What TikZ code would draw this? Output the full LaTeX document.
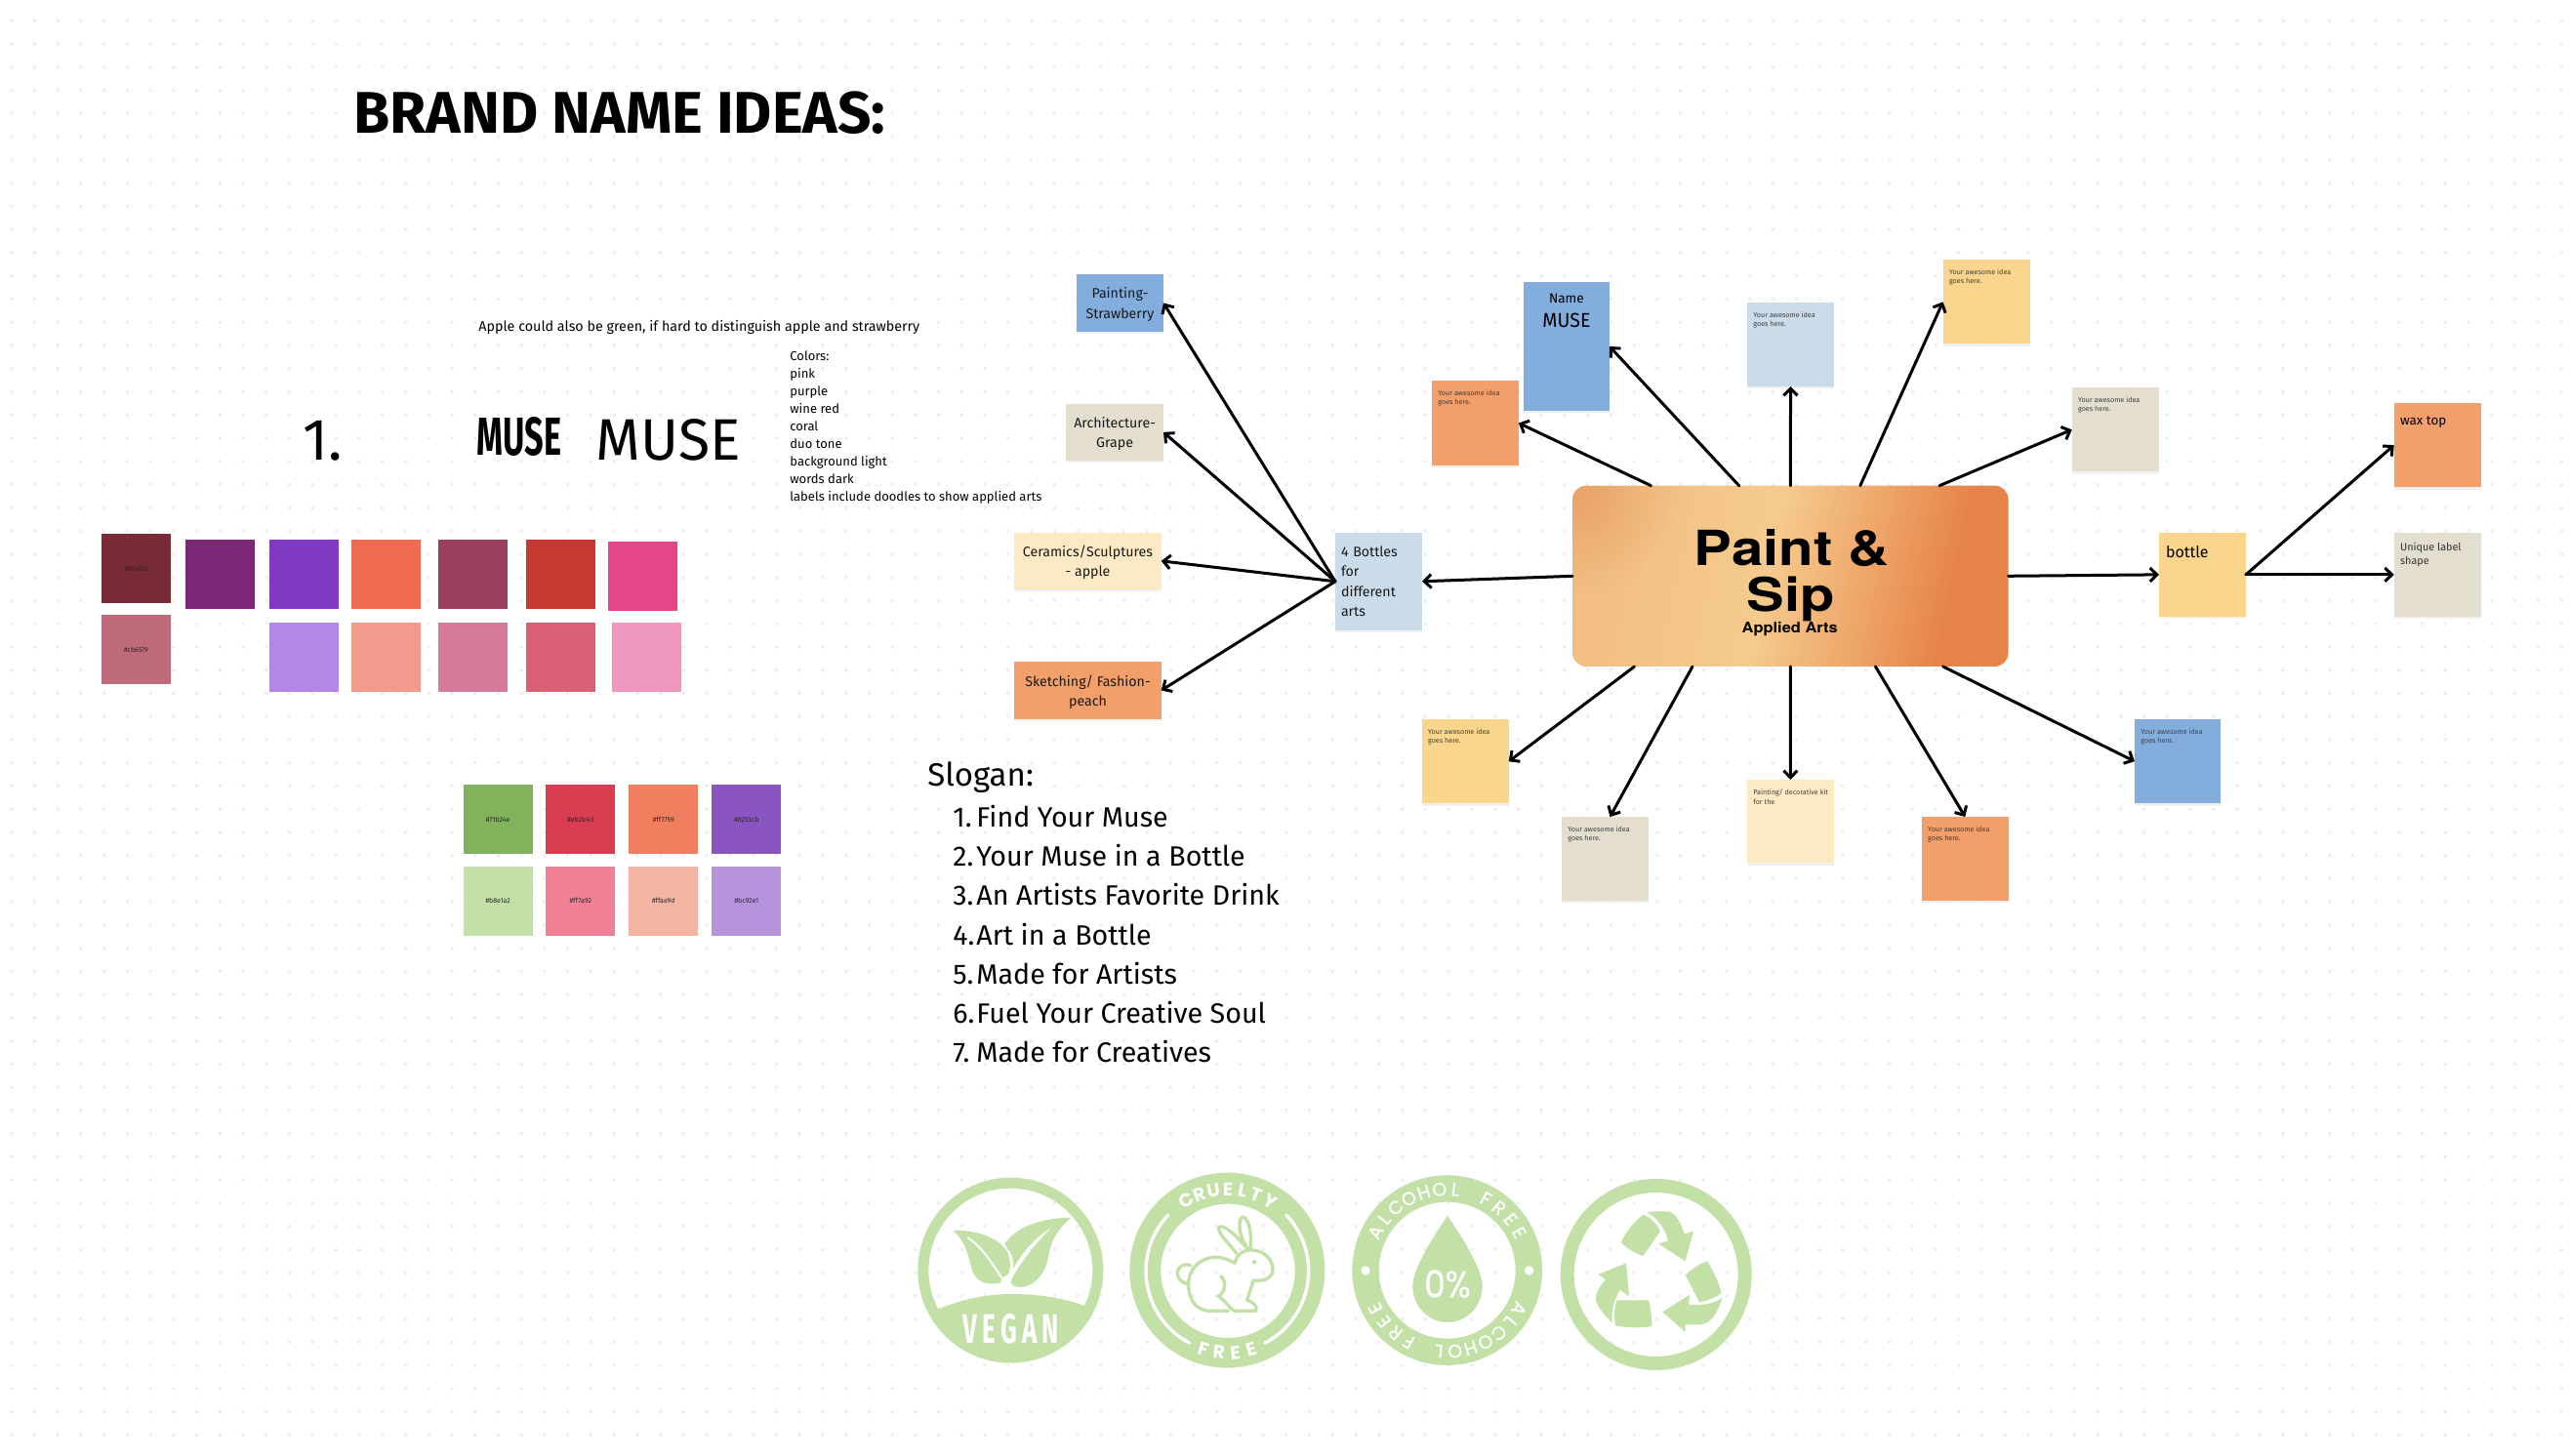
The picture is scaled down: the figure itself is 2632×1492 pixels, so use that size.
\documentclass[tikz,border=0pt]{standalone}
\usepackage{fontspec}
\usepackage{graphicx}
\setmainfont{Fira Sans}
\newfontfamily\heros{TeX Gyre Heros}
\newfontfamily\pop{Poppins}
\newfontfamily\popm[FakeBold=0.4]{Poppins}
\newfontfamily\firawide[LetterSpace=20]{Fira Sans}
\usetikzlibrary{arrows.meta,fadings,calc}
\tikzfading[name=softcorner,inner color=transparent!15,outer color=transparent!100]
\definecolor{dotc}{HTML}{E9EFF3}
\definecolor{leaf}{HTML}{C3E0A7}
\definecolor{nblue}{HTML}{82ADDD}
\definecolor{norange}{HTML}{F29F6B}
\definecolor{nyellow}{HTML}{FAD58D}
\definecolor{nbeige}{HTML}{E3DECE}
\definecolor{ncream}{HTML}{FDEAC4}
\definecolor{nsky}{HTML}{CADCE9}
\definecolor{hubA}{HTML}{F2BE82}
\definecolor{hubB}{HTML}{F5CB8D}
\definecolor{hubC}{HTML}{EEA468}
\definecolor{hubD}{HTML}{E58349}
\definecolor{hubE}{HTML}{E69C62}
\pgfdeclarehorizontalshading{hubshade}{100bp}{color(0bp)=(hubA);color(25bp)=(hubA);color(47bp)=(hubB);color(60bp)=(hubC);color(71bp)=(hubD);color(100bp)=(hubD)}
\newcommand\fsz[1]{\fontsize{#1}{#1}\selectfont}
\tikzset{
  notebox/.style={draw=none,inner sep=0pt,outer sep=0pt,text=black!90,
    preaction={draw=none,fill=black!6,transform canvas={yshift=-1.2pt}}},
  swatchbox/.style={draw=none,inner sep=0pt,outer sep=0pt,minimum width=35.5pt,minimum height=35.5pt,text=black!85,font=\fsz{3.5}},
  tiny note/.style={anchor=north west,inner sep=0pt,align=left,text=black!75,font=\fontsize{3.6}{4.7}\selectfont},
  mid note/.style={align=center,text depth=0pt,font=\fontsize{7.1}{10.2}\selectfont},
  link/.style={line width=1.5pt,line cap=round,-{Straight Barb[length=3.6pt,width=7pt,line width=1.5pt]}},
  ring letter/.style={inner sep=0pt,text=white,font=\pop\bfseries\fsz{9.5}},
  ring thin/.style={inner sep=0pt,text=white,font=\popm\fsz{9.5}},
  rabbit/.style={draw=leaf,line width=1.7pt,line cap=round,line join=round},
  plain text/.style={inner sep=0pt,anchor=base west,text=black},
}
\newcommand\notebox[7]{\node[notebox,mid note,fill=#6,minimum width={(#4-#2)*0.5pt},minimum height={(#5-#3)*0.5pt}] (#1) at ({(#2+#4)/2},{(#3+#5)/2}) {#7};}
\newcommand\swatch[5]{\definecolor{sw#1}{HTML}{#4}\node[swatchbox,fill=sw#1] (#1) at ({#2+35.5},{#3+35.6}) {#5};}
\newcommand\ringtext[8]{\foreach \L [count=\n from 0] in {#8}{\pgfmathsetmacro\ang{#4+\n*#5}\node[#7,rotate={\ang+#6}] at ({#1+#3*cos(\ang)},{#2-#3*sin(\ang)}) {\L};}}
\begin{document}
\begin{tikzpicture}[x=0.5pt,y=-0.5pt]
\useasboundingbox (0,0) rectangle (2632,1492);
\fill[white] (0,0) rectangle (2632,1492);
% dotted canvas
\fill[dotc] \foreach \i in {0,...,110}{\foreach \j in {0,...,62}{ ({10+23.75*\i},{20+23.75*\j}) rectangle ++(3,3) }};
% headings and notes
\node[plain text,font=\bfseries\fsz{30.1}] (title) at (362,136.5) {BRAND NAME IDEAS:};
\node[plain text,font=\fsz{30}] (one) at (310,471) {1.};
\node[plain text,font=\fsz{7.15}] (apple) at (490,339.5) {Apple could also be green, if hard to distinguish apple and strawberry};
\node[inner sep=0pt] (musea) at (532,447.5) {\resizebox{43.3pt}{19.5pt}{\bfseries MUSE}};
\node[inner sep=0pt] (museb) at (685,451) {\resizebox{74pt}{21pt}{MUSE}};
\node[anchor=north west,inner sep=0pt,align=left,font=\fontsize{6.5}{9.05}\selectfont] (colors) at (809,359) {Colors:\\pink\\purple\\wine red\\coral\\duo tone\\background light\\words dark\\labels include doodles to show applied arts};
% swatches
\swatch{sa}{104}{547}{7A2A34}{\#864f33}
\swatch{sb}{190.4}{553}{7A2775}{}
\swatch{sc}{275.6}{553}{8039C4}{}
\swatch{sd}{360.4}{553}{EF6B52}{}
\swatch{se}{449.3}{553}{9A3F5E}{}
\swatch{sf}{538.6}{553}{C53930}{}
\swatch{sg}{623.4}{554.7}{E3478A}{}
\swatch{ta}{104}{630}{BF6A79}{\#cb6579}
\swatch{tc}{275.6}{638}{B387E6}{}
\swatch{td}{360.4}{638}{F29A8B}{}
\swatch{te}{449.3}{638}{D47A9B}{}
\swatch{tf}{538.6}{638}{D95F74}{}
\swatch{tg}{627}{638}{EF97BE}{}
\swatch{ua}{474.7}{804.3}{82B25C}{\#71b24e}
\swatch{ub}{559.3}{804.3}{D93D52}{\#eb2b4d}
\swatch{uc}{644.3}{804.3}{F07F60}{\#ff7759}
\swatch{ud}{729.3}{804.3}{8A55C2}{\#8253cb}
\swatch{va}{474.7}{887.7}{C3E0A7}{\#b8e1a2}
\swatch{vb}{559.3}{887.7}{F18295}{\#ff7a92}
\swatch{vc}{644.3}{887.7}{F5B3A2}{\#ffae9d}
\swatch{vd}{729.3}{887.7}{B694DC}{\#bc92e1}
% slogan
\node[plain text,font=\fsz{16.5}] (slogan) at (950,805) {Slogan:};
\foreach \n/\t/\y in {1/Find Your Muse/847,2/Your Muse in a Bottle/887.3,3/An Artists Favorite Drink/927.6,4/Art in a Bottle/968,5/Made for Artists/1008,6/Fuel Your Creative Soul/1048.3,7/Made for Creatives/1088.6}{
  \node[plain text,font=\fsz{14.3}] (sl\n) at (976,\y) {\makebox[12pt][l]{\n.}\t};
}
% bottle branch
\notebox{paint}{1103}{281}{1192}{340}{nblue}{Painting-\\Strawberry}
\notebox{arch}{1092.3}{413.7}{1192}{472}{nbeige}{Architecture-\\Grape}
\notebox{cera}{1039.3}{546}{1189.7}{603.7}{ncream}{Ceramics/Sculptures\\- apple}
\notebox{sket}{1039.3}{678.3}{1189.7}{736.7}{norange}{Sketching/ Fashion-\\peach}
\node[notebox,fill=nsky,minimum height=49.85pt,text width=38.5pt,inner xsep=3pt,align=left,font=\fontsize{7.1}{10.2}\selectfont] (four) at (1412.5,595.8) {4 Bottles\\for\\different\\arts};
% hub
\node[rounded corners=7pt,minimum width=223.3pt,minimum height=92.65pt,inner sep=0pt,outer sep=0pt,shading=hubshade,shading angle=-12] (hub) at (1834.3,590.3) {};
\begin{scope}
\clip[rounded corners=7pt] (1611,498) rectangle (2057.6,683);
\fill[hubE,path fading=softcorner] (1611,498) circle[radius=110];
\end{scope}
\node[inner sep=0pt] (huba) at (1835.7,562) {\resizebox{100pt}{18.5pt}{\heros\bfseries Paint \&}};
\node[inner sep=0pt] (hubb) at (1834.8,613.7) {\resizebox*{45pt}{23pt}{\heros\bfseries Sip}};
\node[inner sep=0pt] (hubc) at (1833.7,644.5) {\resizebox*{49pt}{7.2pt}{\heros\bfseries Applied Arts}};
% sticky notes
\notebox{name}{1560.7}{289}{1649}{421}{nblue}{}
\node[inner sep=0pt,font=\fsz{6.8}] (namea) at (1604.9,305.7) {Name};
\node[inner sep=0pt] (nameb) at (1604.9,328.3) {\resizebox{24.5pt}{7.2pt}{MUSE}};
\newcommand\idea{Your awesome idea\\goes here.}
\notebox{ora}{1467}{390.3}{1555.8}{476.7}{norange}{}
\notebox{sky}{1790}{310}{1879}{396}{nsky}{}
\notebox{yel}{1990.6}{266.3}{2079.5}{352.3}{nyellow}{}
\notebox{bei}{2122.7}{397.3}{2211.7}{483.3}{nbeige}{}
\notebox{bot}{2212}{546}{2301}{631.7}{nyellow}{}
\notebox{wax}{2452.7}{413}{2541.7}{499.3}{norange}{}
\notebox{uni}{2452.7}{546}{2541.7}{631.7}{nbeige}{}
\notebox{yeb}{1456.7}{737.3}{1545.7}{823.3}{nyellow}{}
\notebox{beb}{1600}{837}{1689}{923}{nbeige}{}
\notebox{cre}{1790}{799}{1878.7}{884.3}{ncream}{}
\notebox{orb}{1968.8}{837}{2057.8}{923}{norange}{}
\notebox{blb}{2187}{737}{2275.3}{823.3}{nblue}{}
\foreach \nn in {ora,sky,yel,bei,yeb,beb,orb,blb}{
  \node[tiny note] (\nn text) at ([xshift=3pt,yshift=-4.6pt]\nn.north west) {\idea};
}
\node[tiny note] (cretext) at ([xshift=3pt,yshift=-4.8pt]cre.north west) {Painting/ decorative kit\\for the};
\node[anchor=north west,inner sep=0pt,font=\fsz{8}] (bottext) at ([xshift=3.3pt,yshift=-6.5pt]bot.north west) {bottle};
\node[anchor=north west,inner sep=0pt,font=\fsz{6.7}] (waxtext) at ([xshift=3pt,yshift=-6.7pt]wax.north west) {wax top};
\node[anchor=north west,inner sep=0pt,align=left,text=black!80,font=\fontsize{5.4}{7}\selectfont] (unitext) at ([xshift=3pt,yshift=-5pt]uni.north west) {Unique label\\shape};
% connectors
\coordinate (h1) at (1691.5,497.7);
\coordinate (h2) at (1781.7,497.7);
\coordinate (h3) at (1834.4,497.7);
\coordinate (h4) at (1905.8,497.7);
\coordinate (h5) at (1987,497.7);
\coordinate (h6) at (1674.5,683);
\coordinate (h7) at (1734,683);
\coordinate (h8) at (1834.4,683);
\coordinate (h9) at (1921.4,683);
\coordinate (h10) at (1990.6,683);
\draw[link] (four.west) -- (paint.east);
\draw[link] (four.west) -- (arch.east);
\draw[link] (four.west) -- (cera.east);
\draw[link] (four.west) -- (sket.east);
\draw[link] (hub.west) -- (four.east);
\draw[link] (h1) -- (ora.east);
\draw[link] (h2) -- (name.east);
\draw[link] (h3) -- (sky.south);
\draw[link] (h4) -- (yel.west);
\draw[link] (h5) -- (bei.west);
\draw[link] (hub.east) -- (bot.west);
\draw[link] (bot.east) -- (wax.west);
\draw[link] (bot.east) -- (uni.west);
\draw[link] (h6) -- (yeb.east);
\draw[link] (h7) -- ([xshift=2.5pt]beb.north);
\draw[link] (h8) -- (cre.north);
\draw[link] (h9) -- (orb.north);
\draw[link] (h10) -- (blb.west);
% vegan badge
\begin{scope}[shift={(930,1195)},x=0.16667pt,y=-0.16667pt]
\fill[leaf,even odd rule] (316,320) circle[radius=285] (316,320) circle[radius=252];
\begin{scope}
\clip (316,320) circle[radius=260];
\fill[leaf] (90,440) .. controls (180,405) and (250,393) .. (320,393) .. controls (400,393) and (480,405) .. (545,430) -- (620,620) -- (20,620) -- cycle;
\end{scope}
\fill[leaf] (140,198) .. controls (210,195) and (280,220) .. (305,262) .. controls (320,290) and (318,335) .. (298,338) .. controls (292,340) and (288,345) .. (285,358) .. controls (240,368) and (210,355) .. (198,320) .. controls (185,275) and (180,235) .. (140,198) -- cycle;
\draw[white,line width=1pt,line cap=round] (185,220) .. controls (230,250) and (260,300) .. (288,342);
\fill[leaf] (502,158) .. controls (400,160) and (330,190) .. (297,240) .. controls (318,262) and (328,285) .. (324,315) .. controls (360,250) and (400,215) .. (445,185) .. controls (400,230) and (350,290) .. (318,350) .. controls (315,368) and (330,372) .. (350,372) .. controls (400,365) and (425,320) .. (432,280) .. controls (440,225) and (465,190) .. (502,158) -- cycle;
\node[inner sep=0pt] (vegan) at (317,500) {\resizebox{49pt}{15pt}{\firawide\bfseries\color{white}VEGAN}};
\end{scope}
% cruelty badge
\begin{scope}[shift={(1150,1195)},x=0.16667pt,y=-0.16667pt]
\fill[leaf,even odd rule] (322,320) circle[radius=300] (324,322) circle[radius=206];
\draw[white,line width=1.7pt,line cap=round] (322,322) ++(-136.6:250) arc[start angle=-136.6,end angle=-242.3,radius=250];
\draw[white,line width=1.7pt,line cap=round] (322,322) ++(-43.4:250) arc[start angle=-43.4,end angle=62.3,radius=250];
\draw[rabbit] (385,255) .. controls (365,225) and (355,190) .. (362,165) .. controls (367,150) and (378,155) .. (385,172) .. controls (395,195) and (395,225) .. (393,255);
\draw[rabbit] (350,268) .. controls (330,240) and (290,205) .. (297,188) .. controls (305,178) and (340,200) .. (380,250);
\draw[rabbit] (345,298) .. controls (352,270) and (375,255) .. (400,258) .. controls (445,262) and (462,295) .. (462,318) .. controls (462,340) and (440,355) .. (402,352) -- (383,412) .. controls (405,420) and (415,430) .. (410,445) -- (345,445) .. controls (330,440) and (322,418) .. (295,400) .. controls (318,385) and (320,355) .. (302,338);
\draw[rabbit] (325,445) -- (270,445) .. controls (220,445) and (200,400) .. (203,355) .. controls (205,310) and (250,275) .. (295,280) .. controls (315,282) and (335,292) .. (345,298);
\draw[rabbit] (210,305) .. controls (165,290) and (150,350) .. (200,362);
\fill[leaf] (405,295) circle[radius=7];
\end{scope}
\ringtext{1257.3}{1302.3}{83.7}{120.3}{-10.3}{-90}{ring letter}{C,R,U,E,L,T,Y}
\ringtext{1257.3}{1302.3}{84}{253}{11.3}{90}{ring letter}{F,R,E,E}
% alcohol badge
\begin{scope}[shift={(1380,1195)},x=0.16667pt,y=-0.16667pt]
\fill[leaf,even odd rule] (308,320) circle[radius=292] (308,320) circle[radius=210];
\fill[leaf] (309,152) .. controls (250,240) and (202,320) .. (202,370) .. controls (202,430) and (250,480) .. (309,480) .. controls (368,480) and (416,430) .. (416,370) .. controls (416,320) and (368,240) .. (309,152) -- cycle;
\node[inner sep=0pt] (zero) at (309,362) {\resizebox{23.7pt}{14.2pt}{\popm\color{white}0\%}};
\fill[white] (57,321) circle[radius=14] (560,321) circle[radius=14];
\end{scope}
\ringtext{1482.7}{1301.7}{83.3}{152}{-11.3}{-90}{ring thin}{A,L,C,O,H,O,L}
\ringtext{1482.7}{1301.7}{83.3}{61.6}{-11.3}{-90}{ring thin}{F,R,E,E}
\ringtext{1482.7}{1301.7}{83.3}{-28}{-11.3}{-90}{ring thin}{A,L,C,O,H,O,L}
\ringtext{1482.7}{1301.7}{83.3}{-118.4}{-11.3}{-90}{ring thin}{F,R,E,E}
% recycle badge
\begin{scope}[shift={(1595,1195)},x=0.16667pt,y=-0.16667pt]
\fill[leaf,even odd rule] (305,333) circle[radius=294] (305,333) circle[radius=252];
\fill[leaf] (268,148) .. controls (295,165) and (310,182) .. (318,200) -- (265,276) .. controls (240,268) and (215,252) .. (197,235) .. controls (212,200) and (240,168) .. (268,148) -- cycle;
\fill[leaf] (278,142) .. controls (300,138) and (325,138) .. (345,140) .. controls (365,145) and (382,175) .. (392,208) -- (420,200) -- (395,292) -- (312,238) -- (342,230) .. controls (335,195) and (310,160) .. (278,142) -- cycle;
\fill[leaf] (395,335) .. controls (415,315) and (440,300) .. (462,292) .. controls (482,325) and (500,360) .. (505,390) .. controls (485,405) and (462,415) .. (438,418) -- cycle;
\fill[leaf] (508,405) .. controls (498,445) and (475,485) .. (440,487) -- (395,487) -- (395,510) -- (325,448) -- (408,395) -- (405,425) .. controls (445,430) and (485,422) .. (508,405) -- cycle;
\fill[leaf] (185,412) -- (282,412) .. controls (290,440) and (292,470) .. (292,492) .. controls (255,498) and (215,497) .. (180,490) .. controls (175,460) and (177,435) .. (185,412) -- cycle;
\fill[leaf] (170,482) .. controls (145,455) and (122,430) .. (120,410) .. controls (120,385) and (135,365) .. (150,348) -- (127,333) -- (213,298) -- (222,400) -- (195,380) .. controls (175,410) and (165,450) .. (170,482) -- cycle;
\end{scope}
\end{tikzpicture}
\end{document}
